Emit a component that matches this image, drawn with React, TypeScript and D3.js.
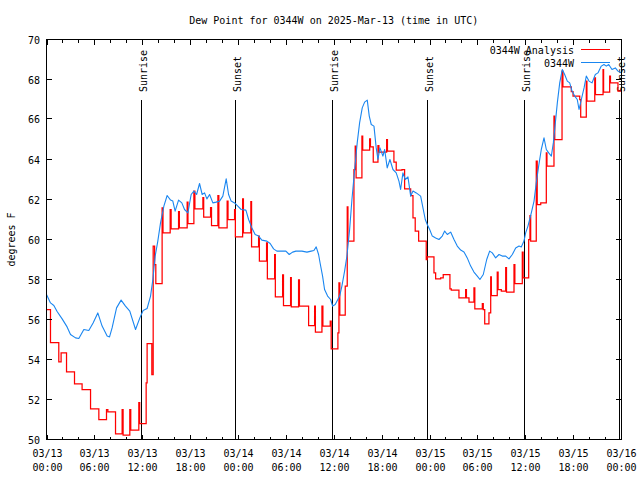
import { useEffect } from "react";
import * as d3 from "d3";

// hours since 2025-03-13 00:00 UTC, dew point (F)
const obsSeries: [number, number][] = [
  [0, 57.25], [0.5, 56.83], [0.92, 56.7], [1.33, 56.4], [1.96, 56.03], [2.58, 55.63], [3.01, 55.25],
  [3.64, 55.08], [4.05, 55.05], [4.68, 55.5], [5.3, 55.45], [5.84, 55.83], [6.43, 56.33], [6.97, 55.67],
  [7.6, 55.17], [7.9, 55.13], [8.22, 55.58], [8.78, 56.58], [9.35, 56.97], [9.9, 56.67], [10.44, 56.42],
  [11.16, 55.5], [11.7, 56.08], [12.11, 56.45], [12.61, 56.55], [13.04, 57.17], [13.33, 58.0], [13.62, 59.17],
  [13.95, 59.92], [14.29, 60.83], [14.71, 61.67], [15.12, 62.2], [15.55, 61.97], [15.83, 61.92], [16.12, 61.42],
  [16.55, 61.97], [16.96, 61.83], [17.3, 61.5], [17.72, 61.33], [18.13, 62.25], [18.47, 62.42], [18.81, 62.25],
  [19.18, 62.8], [19.51, 62.25], [19.81, 62.33], [20.1, 62.03], [20.44, 62.25], [20.85, 61.83], [21.26, 61.87],
  [21.69, 61.92], [22.1, 62.17], [22.52, 63.03], [22.82, 62.25], [23.14, 61.92], [23.57, 61.83], [23.98, 61.67],
  [24.4, 61.5], [24.99, 61.47], [25.33, 61.0], [25.74, 60.58], [26.15, 60.25], [26.58, 60.17], [26.99, 59.97],
  [27.62, 59.92], [28.03, 59.8], [28.46, 59.53], [28.87, 59.42], [29.5, 59.42], [30.0, 59.42], [30.42, 59.25],
  [30.84, 59.37], [31.26, 59.42], [32.01, 59.42], [32.64, 59.37], [33.17, 59.42], [33.51, 59.45], [33.8, 59.63],
  [34.1, 59.25], [34.3, 58.8], [34.6, 58.17], [34.85, 57.5], [35.23, 57.17], [35.61, 57.0], [35.86, 56.67],
  [36.18, 56.75], [36.74, 57.17], [37.02, 57.67], [37.36, 58.42], [37.65, 59.17], [37.99, 60.5], [38.28, 62.0],
  [38.62, 63.5], [38.94, 64.83], [39.24, 65.83], [39.57, 66.58], [39.87, 66.87], [40.2, 66.97], [40.45, 66.17],
  [40.7, 65.75], [41.04, 65.67], [41.32, 64.58], [41.54, 64.0], [41.79, 64.58], [42.16, 64.17], [42.38, 64.5],
  [42.7, 63.58], [43.04, 64.0], [43.42, 63.5], [43.83, 63.33], [44.17, 62.92], [44.38, 62.5], [44.67, 63.33],
  [44.96, 63.0], [45.3, 63.13], [45.64, 62.17], [45.93, 62.42], [46.34, 62.33], [46.89, 62.17], [47.18, 61.58],
  [47.47, 61.0], [47.72, 60.75], [48.02, 60.5], [48.35, 60.17], [48.77, 60.08], [49.19, 60.0], [49.6, 60.17],
  [49.9, 60.42], [50.23, 60.25], [50.65, 60.37], [51.07, 60.0], [51.48, 59.67], [51.91, 59.47], [52.32, 59.38],
  [52.73, 59.08], [53.16, 58.67], [53.57, 58.37], [53.99, 58.17], [54.32, 58.0], [54.74, 58.25], [55.17, 59.0],
  [55.54, 59.42], [55.87, 59.33], [56.29, 59.08], [56.71, 59.25], [57.12, 59.17], [57.55, 59.17], [57.96, 59.03],
  [58.38, 59.25], [58.8, 59.58], [59.22, 59.67], [59.5, 59.63], [59.84, 59.92], [60.05, 60.33], [60.34, 60.67],
  [60.76, 61.33], [61.1, 61.92], [61.38, 62.83], [61.68, 63.67], [62.01, 64.5], [62.35, 65.08], [62.64, 64.5],
  [62.94, 64.33], [63.27, 64.17], [63.52, 64.83], [63.77, 65.83], [64.02, 66.83], [64.32, 67.83], [64.64, 68.5],
  [64.94, 68.25], [65.27, 67.92], [65.57, 67.83], [65.86, 67.42], [66.2, 67.17], [66.52, 67.0], [66.74, 66.5],
  [67.03, 67.0], [67.37, 67.58], [67.65, 68.17], [67.99, 67.92], [68.37, 67.83], [68.78, 68.25], [69.11, 68.33],
  [69.53, 68.67], [69.87, 68.75], [70.16, 68.67], [70.46, 68.75], [70.87, 68.5], [71.29, 68.58], [71.62, 68.42],
  [72, 68.33],
];

// analysis, drawn as steps
const analysisSeries: [number, number][] = [
  [0, 56.5], [0.5, 54.85], [1.54, 53.88], [1.83, 54.33], [2.51, 53.38], [3.51, 52.78], [4.46, 52.5],
  [5.52, 51.53], [6.56, 51.0], [7.52, 51.5], [7.69, 51.38], [8.65, 50.28], [9.48, 51.5], [9.6, 50.22],
  [10.44, 51.5], [10.56, 50.47], [11.57, 51.85], [11.68, 50.8], [12.49, 52.83], [12.61, 54.8], [13.2, 53.25],
  [13.37, 59.67], [13.55, 58.75], [13.7, 57.8], [14.49, 61.58], [14.6, 60.33], [15.5, 61.5], [15.62, 60.53],
  [16.55, 61.4], [16.65, 60.58], [17.63, 61.87], [17.73, 60.8], [18.47, 62.42], [18.6, 61.53], [19.6, 62.1],
  [19.7, 61.12], [20.56, 61.6], [20.68, 60.7], [21.48, 62.2], [21.6, 60.58], [22.64, 61.92], [22.75, 61.0],
  [23.57, 61.5], [23.67, 60.13], [24.58, 62.03], [24.68, 60.33], [25.61, 61.9], [25.7, 59.63], [26.58, 60.17],
  [26.68, 58.92], [27.58, 59.83], [27.68, 58.03], [28.59, 59.25], [28.68, 57.13], [29.59, 58.23], [29.7, 56.7],
  [30.59, 58.1], [30.68, 56.63], [31.59, 57.98], [31.7, 56.67], [32.85, 55.7], [33.6, 56.67], [33.7, 55.37],
  [34.52, 56.67], [34.64, 55.67], [35.56, 55.92], [35.68, 54.53], [36.52, 55.33], [36.65, 57.83], [36.76, 56.22],
  [37.44, 57.67], [37.69, 61.63], [37.78, 59.92], [38.53, 63.5], [38.69, 64.67], [38.8, 63.08], [39.53, 65.17],
  [39.63, 64.47], [40.5, 65.03], [40.6, 64.63], [40.95, 63.87], [41.54, 64.7], [41.66, 64.37], [42.63, 65.0],
  [42.73, 64.42], [43.54, 63.87], [43.83, 63.47], [44.55, 63.5], [44.88, 62.53], [45.64, 62.2], [45.93, 61.08],
  [46.21, 60.42], [46.64, 59.92], [47.59, 59.0], [47.7, 59.13], [48.56, 58.33], [48.77, 58.03], [49.4, 58.08],
  [49.72, 58.25], [50.56, 57.53], [50.73, 57.47], [51.69, 57.08], [52.53, 57.5], [52.63, 57.08], [52.95, 56.87],
  [53.57, 57.58], [53.68, 56.53], [54.62, 56.8], [54.74, 56.5], [54.92, 55.78], [55.45, 56.33], [55.67, 58.13],
  [55.75, 57.2], [56.49, 58.37], [56.6, 57.5], [57.0, 57.42], [57.55, 58.6], [57.65, 57.37], [58.59, 58.75],
  [58.7, 57.8], [59.63, 59.37], [59.73, 58.08], [60.43, 60.0], [60.59, 61.2], [60.68, 59.92], [61.38, 63.92],
  [61.5, 61.75], [61.94, 61.83], [62.64, 64.33], [62.72, 63.67], [63.6, 66.17], [63.7, 65.0], [64.61, 68.42],
  [64.72, 67.63], [65.77, 67.4], [65.99, 67.17], [66.83, 67.0], [66.95, 66.12], [67.65, 67.92], [67.73, 66.92],
  [68.71, 68.08], [68.8, 67.25], [69.75, 68.5], [69.82, 67.37], [70.58, 68.17], [70.68, 67.83], [71.62, 67.42],
  [72, 67.42],
];

const sunLabels = ["Sunrise", "Sunset", "Sunrise", "Sunset", "Sunrise", "Sunset"];
const sunHours = [11.87, 23.67, 35.82, 47.74, 59.87, 71.72];

const seriesNames = ["0344W Analysis", "0344W"];
const seriesColors = ["#ff0000", "#1a86f0"];

const T0 = Date.UTC(2025, 2, 13);
const toDate = (h: number) => new Date(T0 + h * 3600e3);

const W = 640;
const H = 480;
const L = 46.5;
const R = 621;
const T = 39.5;
const B = 439.5;
const FONT = "'DejaVu Sans Mono', monospace";

export default function App() {
  useEffect(() => {
    document.body.style.margin = "0";
  }, []);

  const x = d3.scaleUtc().domain([toDate(0), toDate(72)]).range([L, R]);
  const y = d3.scaleLinear().domain([50, 70]).range([B, T]);

  const px = (v: number) => Math.round(v) + 0.5;
  const majorX = x.ticks(d3.utcHour.every(6)!);
  const minorX = x.ticks(d3.utcHour.every(2)!).filter((d) => d.getUTCHours() % 6 !== 0);
  const yTicks = y.ticks(10);
  const fmtDay = d3.utcFormat("%m/%d");
  const fmtTime = d3.utcFormat("%H:%M");

  const obsLine = d3
    .line<[number, number]>()
    .x((d) => x(toDate(d[0])))
    .y((d) => y(d[1]));
  const anaLine = d3
    .line<[number, number]>()
    .curve(d3.curveStepAfter)
    .x((d) => x(toDate(d[0])))
    .y((d) => y(d[1]));

  return (
    <svg width={W} height={H} style={{ position: "absolute", left: 0, top: 0, background: "#fff" }} fontFamily={FONT} fontSize={10}>
      <rect x={0} y={0} width={W} height={H} fill="#fff" />
      <text x={(L + R) / 2} y={24} textAnchor="middle">
        Dew Point for 0344W on 2025-Mar-13 (time in UTC)
      </text>

      {/* sunrise / sunset markers */}
      {sunHours.map((h, i) => {
        const sx = px(x(toDate(h)));
        return (
          <g key={"sun" + i}>
            <line x1={sx} x2={sx} y1={99.5} y2={B} stroke="#000" strokeWidth={1.5} shapeRendering="crispEdges" />
            <text transform={`translate(${sx + 5},92) rotate(-90)`}>{sunLabels[i]}</text>
          </g>
        );
      })}

      {/* data */}
      <path d={anaLine(analysisSeries) ?? ""} fill="none" stroke={seriesColors[0]} strokeWidth={1.25} strokeLinejoin="miter" />
      <path d={obsLine(obsSeries) ?? ""} fill="none" stroke={seriesColors[1]} strokeWidth={1.1} strokeLinejoin="round" />

      {/* border and ticks */}
      <rect x={L} y={T} width={R - L} height={B - T} fill="none" stroke="#000" strokeWidth={1} shapeRendering="crispEdges" />
      {yTicks.map((v) => {
        const ty = px(y(v)) - 1;
        return (
          <g key={"y" + v}>
            <line x1={L} x2={L + 5} y1={ty} y2={ty} stroke="#000" shapeRendering="crispEdges" />
            <line x1={R - 5} x2={R} y1={ty} y2={ty} stroke="#000" shapeRendering="crispEdges" />
            <text x={40} y={ty + 4} textAnchor="end">
              {v}
            </text>
          </g>
        );
      })}
      {minorX.map((d, i) => {
        const tx = px(x(d));
        return (
          <g key={"mx" + i}>
            <line x1={tx} x2={tx} y1={B} y2={B - 3} stroke="#000" shapeRendering="crispEdges" />
            <line x1={tx} x2={tx} y1={T} y2={T + 3} stroke="#000" shapeRendering="crispEdges" />
          </g>
        );
      })}
      {majorX.map((d, i) => {
        const tx = px(x(d));
        return (
          <g key={"x" + i}>
            <line x1={tx} x2={tx} y1={B} y2={B - 5} stroke="#000" shapeRendering="crispEdges" />
            <line x1={tx} x2={tx} y1={T} y2={T + 5} stroke="#000" shapeRendering="crispEdges" />
            <text x={tx} y={457} textAnchor="middle">
              {fmtDay(d)}
            </text>
            <text x={tx} y={471} textAnchor="middle">
              {fmtTime(d)}
            </text>
          </g>
        );
      })}

      <text transform={`translate(15,${(T + B) / 2}) rotate(-90)`} textAnchor="middle">
        degrees F
      </text>

      {/* legend */}
      {seriesNames.map((name, i) => {
        const ly = 49.5 + i * 13;
        return (
          <g key={"lg" + i}>
            <text x={574} y={ly + 4} textAnchor="end">
              {name}
            </text>
            <line x1={581} x2={610} y1={ly} y2={ly} stroke={seriesColors[i]} strokeWidth={i === 0 ? 1.25 : 1.1} shapeRendering="crispEdges" />
          </g>
        );
      })}
    </svg>
  );
}
